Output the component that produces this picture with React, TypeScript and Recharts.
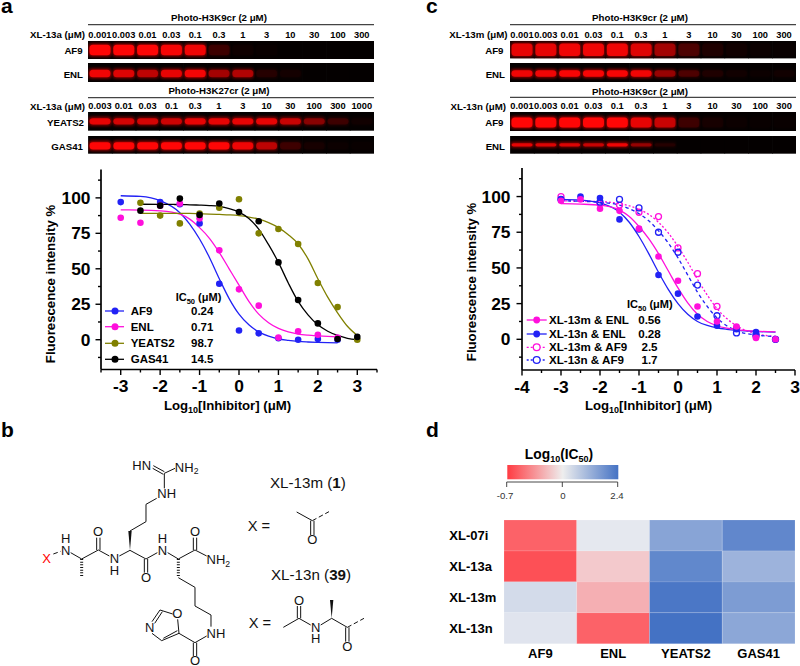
import React from 'react';
import { BarChart, Bar, Cell, ComposedChart, Line, Scatter, XAxis, YAxis, Legend } from 'recharts';

const FONT = '"Liberation Sans", Arial, sans-serif';

// ---------- Blots ----------
const lanesA1 = ['0.001', '0.003', '0.01', '0.03', '0.1', '0.3', '1', '3', '10', '30', '100', '300'];
const lanesA2 = ['0.003', '0.01', '0.03', '0.1', '0.3', '1', '3', '10', '30', '100', '300', '1000'];
const blotAF9a = [1, 1, 1, 0.95, 0.9, 0.2, 0.04, 0.02, 0, 0, 0, 0];
const blotENLa = [0.9, 0.8, 0.65, 0.85, 0.92, 0.55, 0.6, 0.12, 0.06, 0, 0, 0];
const blotYEATS2a = [0.85, 0.75, 0.75, 0.72, 0.85, 0.85, 0.85, 0.85, 0.7, 0.45, 0.2, 0.05];
const blotGAS41a = [1, 1, 1, 1, 1, 1, 0.9, 0.65, 0.2, 0.07, 0.03, 0.02];
const blotAF9m = [0.85, 0.85, 0.9, 0.9, 0.9, 0.8, 0.55, 0.25, 0.1, 0.05, 0.03, 0.02];
const blotENLm = [0.9, 0.9, 0.95, 0.95, 0.95, 0.9, 0.5, 0.25, 0.1, 0.05, 0.03, 0.05];
const blotAF9n = [1, 1, 1, 1, 1, 0.85, 0.7, 0.2, 0.07, 0.03, 0.02, 0.02];
const blotENLn = [0.85, 0.8, 0.8, 0.7, 0.9, 0.5, 0.12, 0, 0, 0, 0, 0];

// ---------- Dose-response panel a ----------
const doseA = [-3, -2.5, -2, -1.5, -1, -0.5, 0, 0.5, 1, 1.5, 2, 2.5, 3];
const ptsAF9a = [97, null, 97, 95.5, 82, 39.5, 6.5, 4.5, 1, 0, 0.5, 0, null];
const ptsENLa = [86, 82.5, 94.5, 96, 85.5, 63, 35.5, 24, 1.5, 6, 3.5, 1.5, null];
const ptsYEATS2a = [null, 96.5, 87.5, 82, 89, 93, 99, 75, 78, 67.5, 40, 23, 0];
const ptsGAS41a = [null, 91, 94.5, 99.5, 88, 96, 90, 83.5, 54.5, 28, 11.5, 0.5, 2];
const curveXA = [-3, -2.5, -2, -1.5, -1.25, -1, -0.75, -0.5, -0.25, 0, 0.25, 0.5, 0.75, 1, 1.25, 1.5, 1.75, 2, 2.25, 2.5, 2.75, 3];
const curveAF9a = [101.5, 101, 98, 89.5, 81.5, 71, 58, 43, 29, 18, 10.5, 5.5, 2.5, 0.5, -0.5, -1.2, -1.6, -1.9, -2.1, -2.2, null, null];
const curveENLa = [91.5, 91.4, 90.8, 88.5, 85, 79, 71.5, 61.5, 50, 38.5, 27, 18, 12, 8, 5.5, 4, 3.2, 2.7, 2.3, 2, null, null];
const curveYEATS2a = [null, 89, 89, 89, 89, 88.8, 88.6, 88.3, 88, 87.5, 86.5, 85, 82.5, 79, 74, 67.5, 57, 43, 30, 19, 9.5, 3];
const curveGAS41a = [null, 95.5, 95.4, 95.3, 95.1, 94.9, 94.6, 94, 92.5, 90, 85.5, 78, 67, 54.5, 40, 27, 17.5, 10.5, 6, 3, 1, 0];

// ---------- Dose-response panel c ----------
const doseC = [-3, -2.5, -2, -1.5, -1, -0.5, 0, 0.5, 1, 1.5, 2, 2.5];
const pts13mENL = [97, 98, 91.5, 90, 77.5, 58, 41, 23, 12.5, 9, 1, 0];
const pts13nENL = [98, 100, 99, 84, 77, 45, 32, 16, 9.5, 7, 5, 0];
const pts13mAF9 = [100, null, 95, 94, 89, 86, 64, 46, 23, 8, 2, 0];
const pts13nAF9 = [98, null, 96, 98, 92, 75, 61, 38, 16.5, 4.5, 3, 0];
const curveXC = [-3, -2.5, -2, -1.5, -1.25, -1, -0.75, -0.5, -0.25, 0, 0.25, 0.5, 0.75, 1, 1.25, 1.5, 2, 2.5];
const curve13mENL = [95, 94.7, 94, 90.5, 86, 79, 70.5, 60, 48, 36, 25.5, 17.5, 12.5, 9.5, 7.8, 6.8, 5.7, 5.2];
const curve13nENL = [98, 97.5, 95.5, 89, 82, 72, 60, 47, 35, 25, 17.5, 12.5, 9.7, 8, 7, 6.3, 5.5, 5.1];
const curve13mAF9 = [97, 96.8, 96.5, 95, 93.5, 91, 87.5, 82, 74.5, 65, 54, 42, 31, 21.5, 14.5, 9.5, 4, 2];
const curve13nAF9 = [97, 96.7, 96, 94, 91.5, 88, 83, 76, 67.5, 57, 45, 33, 23, 15, 9.5, 6, 3, 2];

// ---------- Legends ----------
const legendA = ['AF9', 'ENL', 'YEATS2', 'GAS41'];
const ic50A = ['0.24', '0.71', '98.7', '14.5'];
const legendC = ['XL-13m & ENL', 'XL-13n & ENL', 'XL-13m & AF9', 'XL-13n & AF9'];
const ic50C = ['0.56', '0.28', '2.5', '1.7'];

// ---------- Heat map ----------
const heatRows = ['XL-07i', 'XL-13a', 'XL-13m', 'XL-13n'];
const heatCols = ['AF9', 'ENL', 'YEATS2', 'GAS41'];
const heatAF9 = [-0.55, -0.62, 0.4, 0.23];
const heatENL = [0.15, -0.15, -0.25, -0.55];
const heatYEATS2 = [1.45, 1.99, 2.3, 2.4];
const heatGAS41 = [2.0, 1.16, 1.6, 1.4];
const heatValues = [heatAF9, heatENL, heatYEATS2, heatGAS41];
const heatTable = heatRows.map((row) => ({ row, AF9: 1, ENL: 1, YEATS2: 1, GAS41: 1 }));

const BLUE = '#2222f5';
const MAGENTA = '#ff0fdc';
const OLIVE = '#808000';
const BLACK = '#000000';

const pairs = (xs: number[], ys: (number | null)[]) =>
  xs.map((x, i) => ({ x, y: ys[i] })).filter((d) => d.y !== null);

const mix = (a: number[], b: number[], t: number) =>
  `rgb(${a.map((c, i) => Math.round(c + (b[i] - c) * t)).join(',')})`;
const heatColor = (v: number) =>
  v < 0 ? mix([240, 240, 242], [255, 59, 66], Math.min(1, -v / 0.7)) : mix([240, 240, 242], [68, 114, 196], Math.min(1, v / 2.4));

// ---------- Blot strip: bars drawn as gel bands ----------
function Strip({ lanes, values, left, top, w, h, bandH, bandDy = 0, axis = false }: any) {
  const data = lanes.map((lane: string, i: number) => ({ lane, v: values[i], full: 1 }));
  const axisH = axis ? 14 : 0;
  const shape = (p: any) => {
    const cy = p.y + p.height / 2 + bandDy;
    const op = p.payload.v;
    const r = Math.min(bandH / 2, 3.5);
    return (
      <g>
        <rect x={p.x} y={p.y} width={p.width + 0.5} height={p.height} fill="#040000" />
        <rect x={p.x + 0.5} y={cy - bandH / 2 - 1} width={p.width - 1} height={bandH + 2} rx={r} fill="#d00000" opacity={op * 0.75} style={{ filter: 'blur(1.4px)' }} />
        <rect x={p.x + 1.5} y={cy - bandH / 2 + 0.3} width={p.width - 3} height={bandH - 0.6} rx={r} fill="#ff0606" opacity={Math.pow(op, 1.3)} style={{ filter: 'blur(0.7px)' }} />
      </g>
    );
  };
  return (
    <div style={{ position: 'absolute', left, top: top - axisH }}>
      <BarChart width={w} height={h + axisH} data={data} margin={{ top: 0, right: 0, bottom: 0, left: 0 }} barCategoryGap={0}>
        <XAxis
          dataKey="lane"
          orientation="top"
          height={axisH}
          hide={!axis}
          interval={0}
          axisLine={false}
          tickLine={false}
          tickSize={0}
          tickMargin={3}
          tick={{ fontSize: 9.3, fontWeight: 'bold', fill: '#000', fontFamily: FONT }}
        />
        <YAxis hide domain={[0, 1]} />
        <Bar dataKey="full" isAnimationActive={false} shape={shape} />
      </BarChart>
    </div>
  );
}

// ---------- Dose-response ----------
const xTickFn = (props: any) => {
  const { x, y, payload } = props;
  const v = payload.value;
  const major = Number.isInteger(v);
  return (
    <g>
      <line x1={x} x2={x} y1={y} y2={y + (major ? 5.5 : 3)} stroke="#000" strokeWidth={1.4} />
      {major && (
        <text x={x} y={y + 22.5} textAnchor="middle" fontFamily={FONT} fontWeight="bold" fontSize={17.4} fill="#000">
          {String(v)}
        </text>
      )}
    </g>
  );
};
const yTickFn = (gap: number) => (props: any) => {
  const { x, y, payload } = props;
  const v = payload.value;
  const major = v % 25 === 0;
  return (
    <g>
      <line x1={x - (major ? 5.5 : 3)} x2={x} y1={y} y2={y} stroke="#000" strokeWidth={1.4} />
      {major && (
        <text x={x - gap} y={y + 6} textAnchor="end" fontFamily={FONT} fontWeight="bold" fontSize={17.4} fill="#000">
          {String(v)}
        </text>
      )}
    </g>
  );
};

function XTitle({ x, y }: any) {
  return (
    <text x={x} y={y} textAnchor="middle" fontFamily={FONT} fontWeight="bold" fontSize={13.2} fill="#000">
      Log<tspan fontSize={9} dy={3}>10</tspan>
      <tspan dy={-3}>[Inhibitor]  (μM)</tspan>
    </text>
  );
}
function YTitle({ x, y }: any) {
  return (
    <text x={x} y={y} textAnchor="middle" transform={`rotate(-90 ${x} ${y})`} fontFamily={FONT} fontWeight="bold" fontSize={13.2} fill="#000">
      Fluorescence intensity %
    </text>
  );
}

const LegendA = () => (
  <svg width={367} height={260} style={{ overflow: 'visible', display: 'block' }}>
    <text x={155.7} y={141} fontFamily={FONT} fontWeight="bold" fontSize={11} fill="#000">
      IC<tspan fontSize={7.5} dy={2.5}>50</tspan><tspan dy={-2.5}> (μM)</tspan>
    </text>
    {legendA.map((name, i) => {
      const c = [BLUE, MAGENTA, OLIVE, BLACK][i];
      const yy = [151, 166.7, 183.3, 199.3][i];
      return (
        <g key={name}>
          <line x1={85} x2={104} y1={yy} y2={yy} stroke={c} strokeWidth={1.3} />
          <circle cx={95} cy={yy} r={3.5} fill={c} />
          <text x={110.7} y={yy + 4} fontFamily={FONT} fontWeight="bold" fontSize={11.5} fill="#000">{name}</text>
          <text x={171} y={yy + 4} fontFamily={FONT} fontWeight="bold" fontSize={11.5} fill="#000">{ic50A[i]}</text>
        </g>
      );
    })}
  </svg>
);

const LegendC = () => (
  <svg width={360} height={260} style={{ overflow: 'visible', display: 'block' }}>
    <text x={187} y={148} fontFamily={FONT} fontWeight="bold" fontSize={11} fill="#000">
      IC<tspan fontSize={7.5} dy={2.5}>50</tspan><tspan dy={-2.5}> (μM)</tspan>
    </text>
    {legendC.map((name, i) => {
      const c = [MAGENTA, BLUE, MAGENTA, BLUE][i];
      const yy = [160, 174, 187.3, 200][i];
      const open = i >= 2;
      return (
        <g key={name}>
          <line x1={86.7} x2={106.7} y1={yy} y2={yy} stroke={c} strokeWidth={1.3} strokeDasharray={open ? '2 2' : undefined} />
          <circle cx={96.7} cy={yy} r={3.4} fill={open ? '#fff' : c} stroke={c} strokeWidth={open ? 1.3 : 0} />
          <text x={109} y={yy + 4} fontFamily={FONT} fontWeight="bold" fontSize={11.6} fill="#000">{name}</text>
          <text x={209.5} y={yy + 4} textAnchor="middle" fontFamily={FONT} fontWeight="bold" fontSize={11.6} fill="#000">{ic50C[i]}</text>
        </g>
      );
    })}
  </svg>
);

const dotShape = (color: string, open = false) => (p: any) =>
  p.cx == null ? <g /> : <circle cx={p.cx} cy={p.cy} r={open ? 3 : 3.3} fill={open ? 'none' : color} stroke={color} strokeWidth={open ? 1.3 : 0} />;

const legendStyle = (): React.CSSProperties => ({ position: 'absolute', left: 0, top: 0, width: 0, height: 0, pointerEvents: 'none' });

function ChartA() {
  const series = [
    { name: 'AF9', c: BLUE, pts: ptsAF9a, curve: curveAF9a },
    { name: 'ENL', c: MAGENTA, pts: ptsENLa, curve: curveENLa },
    { name: 'YEATS2', c: OLIVE, pts: ptsYEATS2a, curve: curveYEATS2a },
    { name: 'GAS41', c: BLACK, pts: ptsGAS41a, curve: curveGAS41a },
  ];
  return (
    <div style={{ position: 'absolute', left: 20, top: 160 }}>
      <ComposedChart width={367} height={260} margin={{ top: 9.5, right: 10, bottom: 0, left: 0 }}>
        <XAxis
          type="number"
          dataKey="x"
          domain={[-3.5, 3.5]}
          ticks={[-3.5, -3, -2.5, -2, -1.5, -1, -0.5, 0, 0.5, 1, 1.5, 2, 2.5, 3, 3.5]}
          interval={0}
          height={50.5}
          tickSize={0}
          tickMargin={0}
          tickLine={false}
          axisLine={{ stroke: '#000', strokeWidth: 1.7 }}
          tick={xTickFn}
          allowDataOverflow
          label={{ content: () => <XTitle x={207.5} y={250} /> } as any}
        />
        <YAxis
          type="number"
          dataKey="y"
          width={81}
          domain={[-21, 120]}
          ticks={[-12.5, 0, 12.5, 25, 37.5, 50, 62.5, 75, 87.5, 100, 112.5]}
          interval={0}
          tickSize={0}
          tickMargin={0}
          tickLine={false}
          axisLine={{ stroke: '#000', strokeWidth: 1.7 }}
          tick={yTickFn(10.5)}
          allowDataOverflow
          label={{ content: () => <YTitle x={35} y={124} /> } as any}
        />
        {series.map((s) => (
          <Line key={`l${s.name}`} data={pairs(curveXA, s.curve)} dataKey="y" name={`${s.name} fit`} type="monotone" stroke={s.c} strokeWidth={1.3} dot={false} isAnimationActive={false} legendType="none" />
        ))}
        {series.map((s) => (
          <Scatter key={`s${s.name}`} data={pairs(doseA, s.pts)} dataKey="y" name={s.name} fill={s.c} shape={dotShape(s.c)} isAnimationActive={false} />
        ))}
        <Legend layout="vertical" align="center" verticalAlign="middle" wrapperStyle={legendStyle()} content={() => <LegendA />} />
      </ComposedChart>
    </div>
  );
}

function ChartC() {
  const lines = [
    { name: 'XL-13m & AF9', c: MAGENTA, curve: curve13mAF9, dash: '2 2', pts: pts13mAF9, open: true },
    { name: 'XL-13n & AF9', c: BLUE, curve: curve13nAF9, dash: '3.5 3', pts: pts13nAF9, open: true },
    { name: 'XL-13n & ENL', c: BLUE, curve: curve13nENL, dash: undefined, pts: pts13nENL, open: false },
    { name: 'XL-13m & ENL', c: MAGENTA, curve: curve13mENL, dash: undefined, pts: pts13mENL, open: false },
  ];
  return (
    <div style={{ position: 'absolute', left: 440.3, top: 160 }}>
      <ComposedChart width={360} height={260} margin={{ top: 8, right: 5, bottom: 0, left: 0 }}>
        <XAxis
          type="number"
          dataKey="x"
          domain={[-4, 3]}
          ticks={[-4, -3.5, -3, -2.5, -2, -1.5, -1, -0.5, 0, 0.5, 1, 1.5, 2, 2.5, 3]}
          interval={0}
          height={50}
          tickSize={0}
          tickMargin={0}
          tickLine={false}
          axisLine={{ stroke: '#000', strokeWidth: 1.7 }}
          tick={xTickFn}
          allowDataOverflow
          label={{ content: () => <XTitle x={208.5} y={250} /> } as any}
        />
        <YAxis
          type="number"
          dataKey="y"
          width={82}
          domain={[-21.5, 120]}
          ticks={[-12.5, 0, 12.5, 25, 37.5, 50, 62.5, 75, 87.5, 100, 112.5]}
          interval={0}
          tickSize={0}
          tickMargin={0}
          tickLine={false}
          axisLine={{ stroke: '#000', strokeWidth: 1.7 }}
          tick={yTickFn(11.5)}
          allowDataOverflow
          label={{ content: () => <YTitle x={35.5} y={122} /> } as any}
        />
        {lines.map((s) => (
          <Line key={`l${s.name}`} data={pairs(curveXC, s.curve)} dataKey="y" name={`${s.name} fit`} type="monotone" stroke={s.c} strokeWidth={1.3} strokeDasharray={s.dash} dot={false} isAnimationActive={false} legendType="none" />
        ))}
        {lines.map((s) => (
          <Scatter key={`s${s.name}`} data={pairs(doseC, s.pts)} dataKey="y" name={s.name} fill={s.c} shape={dotShape(s.c, s.open)} isAnimationActive={false} />
        ))}
        <Legend layout="vertical" align="center" verticalAlign="middle" wrapperStyle={legendStyle()} content={() => <LegendC />} />
      </ComposedChart>
    </div>
  );
}

// ---------- Heat map ----------
function HeatMap() {
  const rowTick = (p: any) => (
    <text x={449 - 443.7} y={p.y + 4.5} fontFamily={FONT} fontWeight="bold" fontSize={13} fill="#000">
      {p.payload.value}
    </text>
  );
  const colTick = (p: any) => (
    <text x={p.x} y={p.y + 14.5} textAnchor="middle" fontFamily={FONT} fontWeight="bold" fontSize={13} fill="#000">
      {heatCols[Math.floor(p.payload.value)]}
    </text>
  );
  return (
    <div style={{ position: 'absolute', left: 443.7, top: 519.7 }}>
      <BarChart width={355} height={146} layout="vertical" data={heatTable} margin={{ top: 0, right: 4, bottom: 0, left: 0 }} barCategoryGap={0}>
        <XAxis type="number" domain={[0, 4]} ticks={[0.5, 1.5, 2.5, 3.5]} interval={0} height={22.4} axisLine={false} tickLine={false} tickSize={0} tickMargin={0} tick={colTick} />
        <YAxis type="category" dataKey="row" width={60} axisLine={false} tickLine={false} tickSize={0} tickMargin={0} tick={rowTick} />
        {heatCols.map((col, ci) => (
          <Bar key={col} dataKey={col} stackId="heat" isAnimationActive={false} stroke="rgba(255,255,255,0.3)" strokeWidth={0.5}>
            {heatRows.map((row, ri) => (
              <Cell key={row} fill={heatColor(heatValues[ci][ri])} />
            ))}
          </Bar>
        ))}
      </BarChart>
    </div>
  );
}

// ---------- Plain drawing: panel letters, blot captions, colour key, structure ----------
function T({ x, y, children, size = 9.7, w = 'bold', a = 'start', fill = '#000' }: any) {
  return (
    <text x={x} y={y} fontSize={size} fontWeight={w} textAnchor={a} fill={fill} fontFamily={FONT}>
      {children}
    </text>
  );
}

const bondLines = [
  [212, 428, 245, 447], [245, 447, 295, 420], [295, 420, 328, 438], [358, 438, 390, 421],
  [438, 335, 390, 363], [438, 335, 438, 283], [438, 283, 470, 265], [493, 235, 493, 190],
  [493, 190, 525, 175], [390, 421, 438, 447], [438, 447, 472, 428], [503, 428, 535, 447],
  [535, 447, 585, 420], [585, 420, 620, 438], [535, 503, 585, 532], [585, 532, 585, 588],
  [585, 588, 633, 615], [633, 615, 633, 650], [620, 678, 585, 698], [585, 698, 537, 670],
  [537, 670, 533, 628], [518, 612, 480, 600], [456, 670, 485, 692],
  [890, 306, 937, 332], [850, 652, 897, 625], [897, 625, 932, 645], [962, 645, 995, 625], [995, 625, 1042, 652],
];
const doubleBonds = [
  [290, 420, 290, 383, 300, 420, 300, 383], [433, 447, 433, 488, 443, 447, 443, 488],
  [580, 420, 580, 383, 590, 420, 590, 383], [580, 698, 580, 738, 590, 698, 590, 738],
  [493, 185, 460, 167, 490, 193, 458, 175], [480, 600, 456, 635, 487, 605, 464, 640],
  [485, 692, 537, 670, 490, 685, 532, 662],
  [932, 332, 932, 375, 942, 332, 942, 375], [892, 625, 892, 588, 902, 625, 902, 588],
  [1037, 652, 1037, 695, 1047, 652, 1047, 695],
];
const dashedBonds = [[160, 432, 182, 424], [937, 332, 987, 305], [1042, 652, 1092, 625]];
const wedges = [[390, 421, 385, 363, 395, 363], [995, 625, 990, 570, 1000, 570]];
const hashes = [[245, 447, 503], [535, 447, 503]];
const atomLabels: [number, number, string, string?][] = [
  [197, 398, 'H'], [197, 435, 'N'], [343, 460, 'N'], [343, 494, 'H'], [294, 378, 'O'],
  [438, 517, 'O'], [487, 398, 'H'], [487, 435, 'N'], [585, 378, 'O'],
  [500, 265, 'NH'], [425, 181, 'HN'], [532, 625, 'O'], [449, 666, 'N'],
  [648, 684, 'NH'], [585, 766, 'O'], [937, 403, 'O'], [897, 584, 'O'], [947, 666, 'N'],
  [947, 700, 'H'], [1042, 723, 'O'], [140, 460, 'X', '#ff0000'],
];
const nh2Labels = [[655, 463], [560, 185]];

function Overlay() {
  return (
    <svg width={800} height={666} style={{ position: 'absolute', left: 0, top: 0, pointerEvents: 'none' }}>
      <defs>
        <linearGradient id="heatKey" x1="0" x2="1" y1="0" y2="0">
          <stop offset="0" stopColor="#ff3b42" />
          <stop offset="0.5" stopColor="#eeeeee" />
          <stop offset="1" stopColor="#4472c4" />
        </linearGradient>
      </defs>
      <T x={1} y={12.5} size={21}>a</T>
      <T x={426} y={12.5} size={21}>c</T>
      <T x={1} y={437} size={21}>b</T>
      <T x={426} y={437} size={21}>d</T>

      <T x={219} y={21} a="middle">Photo-H3K9cr (2 μM)</T>
      <line x1={88} x2={374} y1={24.7} y2={24.7} stroke="#444" strokeWidth={1.2} />
      <T x={85} y={37.5} a="end">XL-13a (μM)</T>
      <T x={82.7} y={53.5} a="end">AF9</T>
      <T x={83} y={77.5} a="end">ENL</T>
      <T x={219} y={94} a="middle">Photo-H3K27cr (2 μM)</T>
      <line x1={88} x2={374} y1={97.7} y2={97.7} stroke="#444" strokeWidth={1.2} />
      <T x={85} y={110} a="end">XL-13a (μM)</T>
      <T x={84} y={125.5} a="end">YEATS2</T>
      <T x={83} y={149.5} a="end">GAS41</T>

      <T x={640} y={21} a="middle">Photo-H3K9cr (2 μM)</T>
      <line x1={510} x2={796} y1={24.7} y2={24.7} stroke="#444" strokeWidth={1.2} />
      <T x={507.5} y={37.5} a="end">XL-13m (μM)</T>
      <T x={503.5} y={53.5} a="end">AF9</T>
      <T x={505} y={77.5} a="end">ENL</T>
      <T x={640} y={95} a="middle">Photo-H3K9cr (2 μM)</T>
      <line x1={510} x2={796} y1={97.3} y2={97.3} stroke="#444" strokeWidth={1.2} />
      <T x={506} y={110} a="end">XL-13n (μM)</T>
      <T x={503.5} y={125.5} a="end">AF9</T>
      <T x={505} y={150} a="end">ENL</T>

      {/* colour key */}
      <text x={559} y={459} textAnchor="middle" fontFamily={FONT} fontWeight="bold" fontSize={13.8} fill="#000">
        Log<tspan fontSize={9} dy={3}>10</tspan><tspan dy={-3}>(IC</tspan><tspan fontSize={9} dy={3}>50</tspan><tspan dy={-3}>)</tspan>
      </text>
      <rect x={507.3} y={465} width={111} height={14.3} fill="url(#heatKey)" />
      <path d="M506.7 487 V482 H617.7 V487 M562.3 482 V487" fill="none" stroke="#333" strokeWidth={0.9} />
      <T x={505} y={499} size={9.6} w="normal" a="middle" fill="#333">-0.7</T>
      <T x={563} y={499} size={9.6} w="normal" a="middle" fill="#333">0</T>
      <T x={617} y={499} size={9.6} w="normal" a="middle" fill="#333">2.4</T>

      {/* structure */}
      <g transform="translate(0 410) scale(0.33333)">
        {bondLines.map((b, i) => <line key={i} x1={b[0]} y1={b[1]} x2={b[2]} y2={b[3]} stroke="#111" strokeWidth={3} />)}
        {doubleBonds.map((b, i) => (
          <g key={i} stroke="#111" strokeWidth={3}>
            <line x1={b[0]} y1={b[1]} x2={b[2]} y2={b[3]} />
            <line x1={b[4]} y1={b[5]} x2={b[6]} y2={b[7]} />
          </g>
        ))}
        {dashedBonds.map((b, i) => <line key={i} x1={b[0]} y1={b[1]} x2={b[2]} y2={b[3]} stroke="#111" strokeWidth={3} strokeDasharray="14 8" />)}
        {wedges.map((b, i) => <polygon key={i} points={`${b[0]},${b[1]} ${b[2]},${b[3]} ${b[4]},${b[5]}`} fill="#111" />)}
        {hashes.map((h, i) => (
          <line key={i} x1={h[0]} x2={h[0]} y1={h[1]} y2={h[2]} stroke="#111" strokeWidth={9} strokeDasharray="3 5" />
        ))}
        {atomLabels.map(([x, y, s, c], i) => (
          <text key={i} x={x} y={y} textAnchor="middle" fontFamily={FONT} fontSize={39} fill={c || '#111'}>{s}</text>
        ))}
        {nh2Labels.map(([x, y], i) => (
          <text key={i} x={x} y={y} textAnchor="middle" fontFamily={FONT} fontSize={39} fill="#111">
            NH<tspan fontSize={26} dy={8}>2</tspan>
          </text>
        ))}
        <text x={810} y={233} fontFamily={FONT} fontSize={45.5} fill="#111">XL-13m (<tspan fontWeight="bold">1</tspan>)</text>
        <text x={813} y={509} fontFamily={FONT} fontSize={45.5} fill="#111">XL-13n (<tspan fontWeight="bold">39</tspan>)</text>
        <text x={743} y={363} fontFamily={FONT} fontSize={44} fill="#111">X =</text>
        <text x={746} y={655} fontFamily={FONT} fontSize={44} fill="#111">X =</text>
      </g>
    </svg>
  );
}

export default function App() {
  return (
    <div style={{ position: 'absolute', left: 0, top: 0, width: 800, height: 666, background: '#fff', overflow: 'hidden' }}>
      <Strip lanes={lanesA1} values={blotAF9a} left={88.3} top={41.3} w={285.7} h={18} bandH={11} axis />
      <Strip lanes={lanesA1} values={blotENLa} left={88.3} top={63.3} w={285.7} h={19} bandH={8} bandDy={1} />
      <Strip lanes={lanesA2} values={blotYEATS2a} left={88.3} top={112} w={285.7} h={18.7} bandH={7} axis />
      <Strip lanes={lanesA2} values={blotGAS41a} left={88.3} top={136} w={285.7} h={17.7} bandH={8} bandDy={1} />
      <Strip lanes={lanesA1} values={blotAF9m} left={510} top={41.3} w={286} h={17.4} bandH={13} axis />
      <Strip lanes={lanesA1} values={blotENLm} left={510} top={63.3} w={286} h={19} bandH={7} bandDy={1} />
      <Strip lanes={lanesA1} values={blotAF9n} left={510} top={111.7} w={286} h={19} bandH={10.5} bandDy={1} axis />
      <Strip lanes={lanesA1} values={blotENLn} left={510} top={136} w={286} h={17.7} bandH={4} />
      <ChartA />
      <ChartC />
      <HeatMap />
      <Overlay />
    </div>
  );
}
